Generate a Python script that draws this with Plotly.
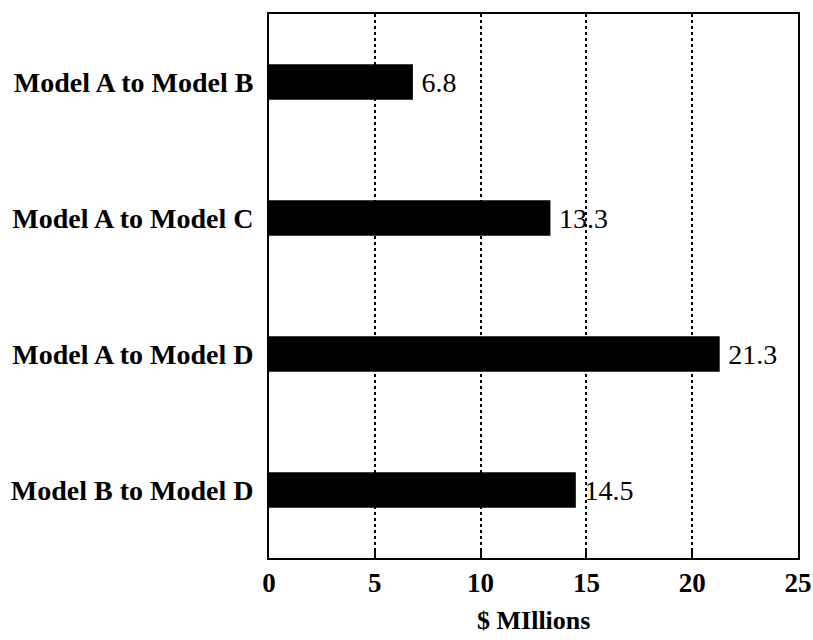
import plotly.graph_objects as go

categories = ["Model A to Model B", "Model A to Model C", "Model A to Model D", "Model B to Model D"]
values = [6.8, 13.3, 21.3, 14.5]
value_labels = ["6.8", "13.3", "21.3", "14.5"]
tick_vals = [0, 5, 10, 15, 20, 25]
x_title = "$ MIllions"

FONT = "Liberation Serif"

fig = go.Figure(go.Bar(
    x=values, y=categories, orientation="h",
    marker=dict(color="black", line=dict(width=0)),
    width=0.26,
    text=["\u2009" + t for t in value_labels], textposition="outside",
    textfont=dict(family=FONT, size=28, color="black"),
    cliponaxis=False,
))

fig.update_layout(
    width=813, height=640,
    margin=dict(l=269, r=15, t=14, b=82),
    paper_bgcolor="white", plot_bgcolor="white",
    showlegend=False,
    font=dict(family=FONT, color="black"),
    annotations=[dict(
        text="<b>%s</b>" % x_title, xref="paper", yref="paper",
        x=0.5, y=-0.115, xanchor="center", yanchor="middle", showarrow=False,
        font=dict(family=FONT, size=26, color="black"),
    )],
)
fig.update_xaxes(
    range=[0, 25], tickvals=tick_vals, ticktext=["<b>%d</b>" % v for v in tick_vals],
    tickfont=dict(family=FONT, size=27, color="black"),
    showgrid=True, gridcolor="black", griddash="dot", gridwidth=1.5,
    showline=True, linecolor="black", linewidth=2, mirror=True,
    ticks="inside", ticklen=8, tickwidth=1.5, tickcolor="black",
    zeroline=False, automargin=False,
)
fig.update_yaxes(
    categoryorder="array", categoryarray=categories[::-1],
    tickvals=categories[::-1], ticktext=["<b>%s</b>" % c for c in categories[::-1]],
    tickfont=dict(family=FONT, size=28, color="black"),
    showline=True, linecolor="black", linewidth=2, mirror=True,
    showgrid=False, ticks="", ticklabelstandoff=8, automargin=False,
)

fig.write_html("out.html")
